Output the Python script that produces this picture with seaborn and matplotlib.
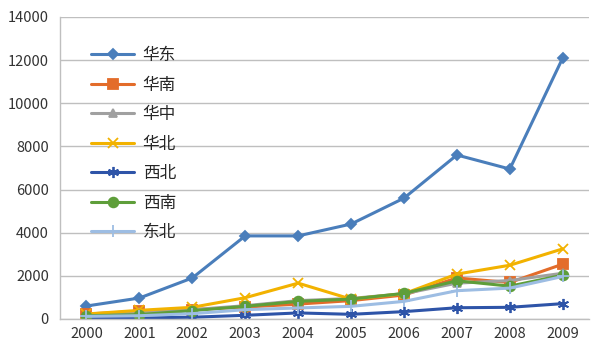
import matplotlib
matplotlib.use("Agg")
import matplotlib.pyplot as plt
import seaborn as sns
import pandas as pd
import numpy as np

years = ["2000", "2001", "2002", "2003", "2004", "2005", "2006", "2007", "2008", "2009"]
huadong = [600, 970, 1900, 3850, 3850, 4400, 5600, 7600, 6950, 12100]
huanan = [230, 350, 430, 550, 690, 850, 1110, 1900, 1690, 2540]
huazhong = [200, 320, 430, 615, 850, 950, 1170, 1660, 1780, 2120]
huabei = [230, 400, 540, 985, 1660, 920, 1170, 2080, 2490, 3250]
xibei = [30, 50, 80, 170, 280, 215, 340, 520, 540, 710]
xinan = [150, 200, 385, 585, 815, 920, 1185, 1770, 1520, 2030]
dongbei = [120, 150, 245, 430, 510, 585, 815, 1310, 1430, 1970]

names = ["华东", "华南", "华中", "华北", "西北", "西南", "东北"]
series = [huadong, huanan, huazhong, huabei, xibei, xinan, dongbei]
colors = ["#4A7EBB", "#E36C2A", "#A0A0A0", "#F2B200", "#2E54A8", "#5E9E3A", "#9DBDE3"]
markers = ["D", "s", "^", "x", (6, 2, 0), "o", "+"]
msizes = [5, 7, 6, 7, 8, 7, 8]

sns.set_theme(style="white")
plt.rcParams['font.family'] = ['Noto Sans CJK SC', 'DejaVu Sans']

rows = []
for n, s in zip(names, series):
    for i, v in enumerate(s):
        rows.append({"x": i, "value": v, "region": n})
df = pd.DataFrame(rows)

fig = plt.figure(figsize=(6, 3.6), dpi=100)
ax = fig.add_axes([0.100, 0.114, 0.882, 0.839])

for n, c, m, ms in zip(names, colors, markers, msizes):
    sub = df[df["region"] == n]
    sns.lineplot(data=sub, x="x", y="value", ax=ax, color=c, marker=m,
                 markersize=ms, linewidth=2.2, label=n,
                 markeredgecolor=c, markeredgewidth=1.3)

ax.set_xlim(-0.5, 9.5)
ax.set_ylim(0, 14000)
ax.set_yticks(np.arange(0, 14001, 2000))
ax.set_xticks(range(10))
ax.set_xticklabels(years)
ax.set_xticks(np.arange(-0.5, 10, 1), minor=True)
ax.tick_params(axis="x", which="major", length=0, labelsize=10.5, pad=6, colors="#333333")
ax.tick_params(axis="x", which="minor", length=5, color="#BFBFBF", width=1, direction="out")
ax.tick_params(axis="y", length=5, color="#BFBFBF", width=1, direction="out", labelsize=10.5,
               colors="#333333", pad=3)
ax.tick_params(axis="y", colors="#BFBFBF", labelcolor="#333333")
ax.set_xlabel("")
ax.set_ylabel("")
ax.grid(axis="y", color="#BFBFBF", linewidth=1)
ax.set_axisbelow(True)
for side in ["top", "right"]:
    ax.spines[side].set_visible(False)
for side in ["left", "bottom"]:
    ax.spines[side].set_color("#BFBFBF")
    ax.spines[side].set_linewidth(1)

leg = ax.legend(loc="upper left", bbox_to_anchor=(0.03, 0.95), frameon=False,
                fontsize=12, handlelength=2.6, labelspacing=0.75, handletextpad=0.5)

fig.savefig("out.png", dpi=100)
